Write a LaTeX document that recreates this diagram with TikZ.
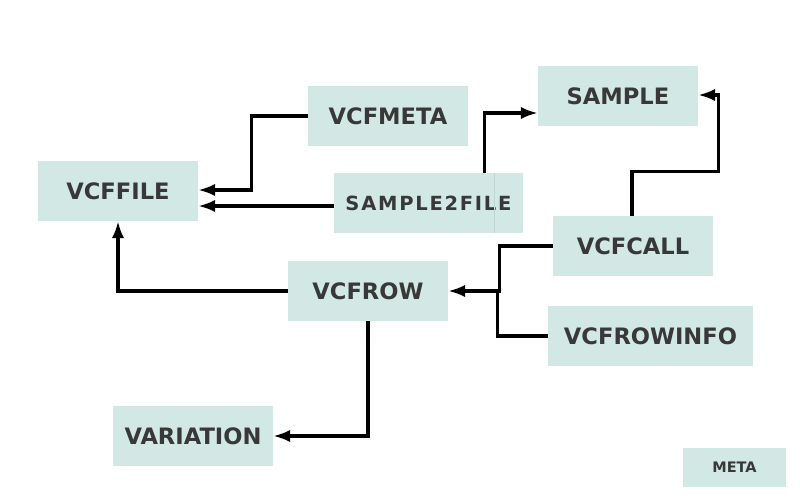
\documentclass[tikz,border=0pt]{standalone}
\usepackage{fontspec}
\setmainfont{DejaVu Sans}
\usetikzlibrary{arrows.meta,calc}
\definecolor{boxc}{HTML}{D2E8E5}
\definecolor{boxline}{HTML}{BFD6D3}
\definecolor{txt}{HTML}{383838}
\begin{document}
\begin{tikzpicture}[x=1pt,y=-1pt,
  box/.style={fill=boxc, draw=none, minimum width=160pt, minimum height=60pt, inner sep=0pt, text=txt,
    font=\bfseries\fontsize{22.6}{26}\selectfont},
  link/.style={line width=3.2pt, -{Latex[length=17pt,width=12.5pt]}},
  plain/.style={line width=3.2pt}]
\useasboundingbox (0,0) rectangle (800,500);
\node[box] (vcffile) at (118,191) {VCFFILE};
\node[box] (vcfmeta) at (388,116) {VCFMETA};
\node[box] (sample) at (618,96) {SAMPLE};
\node[box, minimum width=189pt, font=\bfseries\fontsize{19.5}{23}\selectfont\addfontfeature{LetterSpace=9}] (s2f) at (428.5,203) {SAMPLE2FILE};
\draw[boxline, line width=0.6pt] ($(s2f.north west)+(160,0)$) -- ($(s2f.south west)+(160,0)$);
\node[box] (vcfcall) at (633,246) {VCFCALL};
\node[box] (vcfrow) at (368,291) {VCFROW};
\node[box, minimum width=205pt] (vcfrowinfo) at (650.5,336) {VCFROWINFO};
\node[box] (variation) at (193,436) {VARIATION};
\node[box, minimum width=103pt, minimum height=39pt, font=\bfseries\fontsize{14.5}{17}\selectfont] (meta) at (734.5,467.5) {META};

\draw[link] (vcfmeta.west) -- ++(-56,0) |- ($(vcffile.east)+(0,-1)$);
\draw[link] ($(s2f.west)+(0,3)$) -- ($(vcffile.east)+(0,15)$);
\draw[link] ($(s2f.north west)+(151,0)$) |- ($(sample.west)+(0,17)$);
\draw[link] ($(vcfcall.north)+(-1,0)$) -- ++(0,-44) -| ($(sample.east)+(20,-1)$) -- ($(sample.east)+(0,-1)$);
\draw[link] (vcfcall.west) -- ++(-53,0) |- (vcfrow.east);
\draw[plain] (vcfrowinfo.west) -- ++(-50,0) |- ($(vcfrow.east)+(50,0)$);
\draw[link] (vcfrow.west) -| (vcffile.south);
\draw[link] (vcfrow.south) |- (variation.east);
\end{tikzpicture}
\end{document}
